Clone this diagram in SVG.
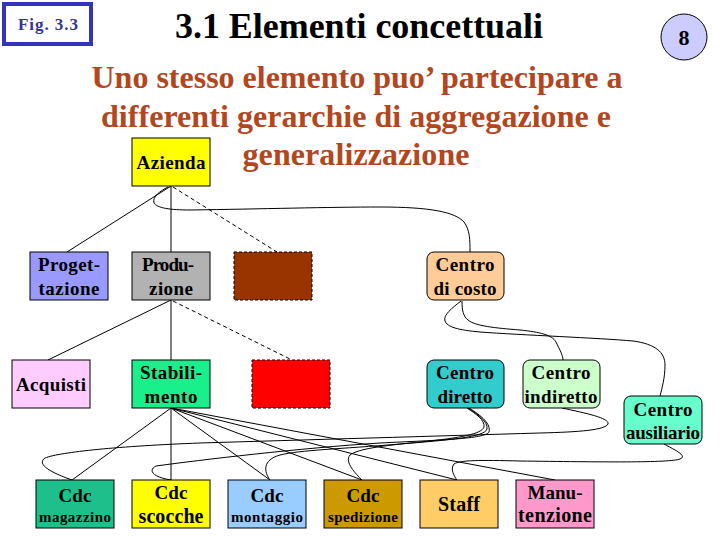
<svg xmlns="http://www.w3.org/2000/svg" width="720" height="540" viewBox="0 0 720 540">
<style>
text{font-family:"Liberation Serif","Times New Roman",serif;font-weight:bold;text-anchor:middle;fill:#000}
.box{stroke:#000;stroke-width:1}
.dbox{stroke:#000;stroke-width:1;stroke-dasharray:3,2}
.t19{font-size:19px}
.t15{font-size:15px}
.sub{font-size:32px;fill:#b4461e}
#conn line,#conn path{stroke:#000;stroke-width:1;fill:none}
#conn .dash{stroke-dasharray:4,3}
</style>
<rect width="720" height="540" fill="#fff"/>
<g id="figlabel">
<rect x="4" y="4" width="87" height="40" fill="#fff" stroke="#3333bb" stroke-width="4"/>
<text x="48" y="30" style="font-size:17px;fill:#333399" textLength="60" lengthAdjust="spacing">Fig. 3.3</text>
</g>
<g id="title"><text x="359" y="38" style="font-size:36px" textLength="368" lengthAdjust="spacing">3.1 Elementi concettuali</text></g>
<g id="pagenum">
<circle cx="684" cy="37" r="23" fill="#ccccff" stroke="#000" stroke-width="1"/>
<text x="684" y="45" style="font-size:22px">8</text>
</g>
<g id="subtitle">
<text class="sub" x="357" y="88" textLength="531" lengthAdjust="spacing">Uno stesso elemento puo’ partecipare a</text>
<text class="sub" x="356" y="127" textLength="510" lengthAdjust="spacing">differenti gerarchie di aggregazione e</text>
<text class="sub" x="356" y="165" textLength="227" lengthAdjust="spacing">generalizzazione</text>
</g>
<g id="conn">
<line x1="171" y1="186" x2="67" y2="252"/>
<line x1="171" y1="186" x2="171" y2="252"/>
<line class="dash" x1="173" y1="187" x2="277" y2="252"/>
<line x1="171" y1="300" x2="48" y2="360"/>
<line x1="171" y1="300" x2="171" y2="360"/>
<line class="dash" x1="173" y1="301" x2="292" y2="360"/>
<line x1="171" y1="408" x2="72" y2="480"/>
<line x1="171" y1="408" x2="171" y2="480"/>
<line x1="171" y1="408" x2="270" y2="480"/>
<line x1="171" y1="408" x2="362" y2="480"/>
<line x1="171" y1="408" x2="457" y2="480"/>
<line x1="171" y1="408" x2="555" y2="480"/>
<path d="M168,187 C160,191 152,197 154,203 C157,208 170,210 190,210 C260,209 330,207 380,207 C430,207 455,212 464,222 C470,230 470,240 470,252"/>
<path d="M461,301 C452,308 443,315 445,321 C447,327 458,330 480,332 C520,335 600,338 633,341 C655,344 665,352 665,365 C665,378 662,388 660,396"/>
<path d="M462,301 C462,310 463,316 468,320 C475,326 495,328 520,330 C540,332 552,335 556,342 C560,350 563,356 563,360"/>
<path d="M467,408 C476,414 485,420 484,427 C482,434 460,438 420,442 C380,446 358,449 350,455 C344,462 356,474 362,480"/>
<path d="M468,408 C479,415 488,422 487,429 C485,437 450,440 400,444 C340,449 300,450 280,455 C262,460 264,472 270,480"/>
<path d="M469,408 C482,416 491,424 489,432 C485,439 440,440 380,443 C300,448 200,460 156,466 C148,470 152,477 171,480"/>
<path d="M562,408 C585,413 610,418 608,424 C605,430 580,432 540,433 C440,436 300,440 200,443 C120,446 60,452 45,458 C35,465 55,474 72,480"/>
<path d="M664,444 C675,450 688,456 680,459 C670,463 600,462 520,461 C480,460 460,460 454,464 C450,469 454,476 457,480"/>
</g>
<g id="azienda"><rect class="box" x="132" y="138" width="78" height="48" fill="#ffff00"/><text class="t19" x="171" y="169" textLength="69" lengthAdjust="spacing">Azienda</text></g>
<g id="progettazione"><rect class="box" x="30" y="252" width="78" height="48" fill="#9999ff"/><text class="t19" x="69" y="271" textLength="62" lengthAdjust="spacing">Proget-</text><text class="t19" x="69" y="295" textLength="61" lengthAdjust="spacing">tazione</text></g>
<g id="produzione"><rect class="box" x="132" y="252" width="78" height="48" fill="#b2b2b2"/><text class="t19" x="168" y="271" textLength="52" lengthAdjust="spacing">Produ-</text><text class="t19" x="171" y="295" textLength="44" lengthAdjust="spacing">zione</text></g>
<g id="brown"><rect class="dbox" x="234" y="252" width="78" height="48" fill="#993300"/></g>
<g id="centrocosto"><rect class="box" x="427" y="252" width="77" height="48" rx="7" fill="#ffcc99"/><text class="t19" x="465" y="271" textLength="59" lengthAdjust="spacing">Centro</text><text class="t19" x="465" y="295" textLength="63" lengthAdjust="spacing">di costo</text></g>
<g id="acquisti"><rect class="box" x="12" y="360" width="78" height="48" fill="#ffccff"/><text class="t19" x="51" y="391" textLength="70" lengthAdjust="spacing">Acquisti</text></g>
<g id="stabilimento"><rect class="box" x="132" y="360" width="78" height="48" fill="#19f08c"/><text class="t19" x="171" y="379" textLength="62" lengthAdjust="spacing">Stabili-</text><text class="t19" x="171" y="403" textLength="53" lengthAdjust="spacing">mento</text></g>
<g id="red"><rect class="dbox" x="252" y="360" width="78" height="48" fill="#ff0000"/></g>
<g id="centrodiretto"><rect class="box" x="427" y="360" width="77" height="48" rx="7" fill="#33cccc"/><text class="t19" x="465" y="379" textLength="58" lengthAdjust="spacing">Centro</text><text class="t19" x="465" y="403" textLength="55" lengthAdjust="spacing">diretto</text></g>
<g id="centroindiretto"><rect class="box" x="523" y="360" width="77" height="48" rx="7" fill="#ccffcc"/><text class="t19" x="561" y="379" textLength="59" lengthAdjust="spacing">Centro</text><text class="t19" x="561" y="403" textLength="73" lengthAdjust="spacing">indiretto</text></g>
<g id="centroausiliario"><rect class="box" x="624" y="396" width="78" height="48" rx="7" fill="#66ffcc"/><text class="t19" x="663" y="416" textLength="59" lengthAdjust="spacing">Centro</text><text class="t19" x="663" y="439" textLength="74" lengthAdjust="spacing">ausiliario</text></g>
<g id="magazzino"><rect class="box" x="36" y="480" width="78" height="48" fill="#1fbf8c"/><text class="t19" x="75" y="502" textLength="33" lengthAdjust="spacing">Cdc</text><text class="t15" x="75" y="522" textLength="72" lengthAdjust="spacing">magazzino</text></g>
<g id="scocche"><rect class="box" x="132" y="480" width="78" height="48" fill="#ffff00"/><text class="t19" x="171" y="499" textLength="33" lengthAdjust="spacing">Cdc</text><text x="171" y="523" style="font-size:20px" textLength="65" lengthAdjust="spacing">scocche</text></g>
<g id="montaggio"><rect class="box" x="228" y="480" width="78" height="48" fill="#99ccff"/><text class="t19" x="267" y="502" textLength="33" lengthAdjust="spacing">Cdc</text><text class="t15" x="267" y="522" textLength="72" lengthAdjust="spacing">montaggio</text></g>
<g id="spedizione"><rect class="box" x="324" y="480" width="78" height="48" fill="#cc9900"/><text class="t19" x="363" y="502" textLength="33" lengthAdjust="spacing">Cdc</text><text class="t15" x="363" y="522" textLength="70" lengthAdjust="spacing">spedizione</text></g>
<g id="staff"><rect class="box" x="420" y="480" width="78" height="48" fill="#ffcc66"/><text x="459" y="511" style="font-size:20px" textLength="42" lengthAdjust="spacing">Staff</text></g>
<g id="manutenzione"><rect class="box" x="516" y="480" width="78" height="48" fill="#ff99cc"/><text class="t19" x="555" y="499" textLength="55" lengthAdjust="spacing">Manu-</text><text x="555" y="522" style="font-size:20px" textLength="74" lengthAdjust="spacing">tenzione</text></g>
</svg>
